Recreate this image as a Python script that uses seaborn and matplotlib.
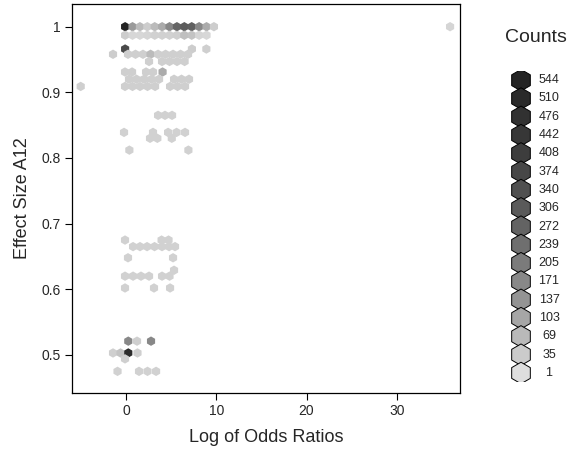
import matplotlib
matplotlib.use("Agg")
import matplotlib.pyplot as plt
from matplotlib.colors import LinearSegmentedColormap
import numpy as np
import pandas as pd
import seaborn as sns

# === hex cells: centre (log odds ratio, A12) and count in the cell ===
hex_x = [
    # A12 = 1.00
    -0.1, 0.72, 1.54, 2.36, 3.18, 4.0, 4.82, 5.64, 6.46, 7.28, 8.1, 8.92, 9.74, 35.9,
    # 0.987
    -0.1, 0.72, 1.54, 2.36, 3.18, 4.0, 4.82, 5.64, 6.46, 7.28, 8.1, 8.92,
    # 0.966
    -0.1, 7.3, 8.9,
    # 0.958
    -1.44, 0.22, 1.05, 1.88, 2.72, 3.55, 4.38, 5.21, 6.04, 6.87,
    # 0.947
    2.55, 3.99, 4.82, 5.65, 6.49,
    # 0.931
    -0.11, 0.67, 2.22, 2.99, 4.05,
    # 0.920
    0.33, 1.16, 2.0, 2.83, 3.66, 5.32, 6.15, 6.98,
    # 0.909
    -5.02, -0.11, 0.72, 1.55, 2.38, 3.22, 4.88, 5.71, 6.54,
    # 0.865 .. 0.812
    3.55, 4.32, 5.1,
    -0.22, 2.99, 4.66, 5.6, 6.54,
    2.66, 3.47, 5.07,
    0.37, 6.91,
    # 0.675 .. 0.602
    -0.11, 3.94, 4.71,
    0.78, 1.55, 2.33, 3.16, 3.99, 4.77, 5.43,
    0.22, 5.21,
    5.32,
    -0.11, 0.78, 1.66, 2.55, 3.99, 4.82,
    -0.11, 3.1, 4.88,
    # 0.521 .. 0.475
    0.25, 1.22, 2.77,
    -1.44, -0.61, 0.25, 1.27,
    -0.11,
    -0.94, 1.44, 2.38, 3.33,
]
hex_y = [
    1.0, 1.0, 1.0, 1.0, 1.0, 1.0, 1.0, 1.0, 1.0, 1.0, 1.0, 1.0, 1.0, 1.0,
    0.987, 0.987, 0.987, 0.987, 0.987, 0.987, 0.987, 0.987, 0.987, 0.987, 0.987, 0.987,
    0.966, 0.966, 0.966,
    0.958, 0.958, 0.958, 0.958, 0.958, 0.958, 0.958, 0.958, 0.958, 0.958,
    0.947, 0.947, 0.947, 0.947, 0.947,
    0.931, 0.931, 0.931, 0.931, 0.931,
    0.920, 0.920, 0.920, 0.920, 0.920, 0.920, 0.920, 0.920,
    0.909, 0.909, 0.909, 0.909, 0.909, 0.909, 0.909, 0.909, 0.909,
    0.865, 0.865, 0.865,
    0.839, 0.839, 0.839, 0.839, 0.839,
    0.830, 0.830, 0.830,
    0.812, 0.812,
    0.675, 0.675, 0.675,
    0.665, 0.665, 0.665, 0.665, 0.665, 0.665, 0.665,
    0.648, 0.648,
    0.629,
    0.620, 0.620, 0.620, 0.620, 0.620, 0.620,
    0.602, 0.602, 0.602,
    0.521, 0.521, 0.521,
    0.503, 0.503, 0.503, 0.503,
    0.494,
    0.475, 0.475, 0.475, 0.475,
]
hex_count = [
    544, 127, 65, 33, 65, 95, 170, 265, 300, 285, 170, 95, 33, 20,
    33, 15, 15, 20, 25, 25, 25, 30, 60, 50, 20, 15,
    360, 33, 30,
    33, 30, 30, 30, 65, 30, 30, 30, 30, 30,
    30, 30, 30, 30, 30,
    30, 30, 30, 30, 95,
    30, 30, 30, 30, 30, 30, 30, 30,
    30, 30, 30, 30, 30, 30, 30, 30, 30,
    25, 25, 25,
    25, 25, 25, 25, 25,
    25, 25, 25,
    25, 25,
    25, 25, 25,
    25, 25, 25, 25, 25, 25, 25,
    25, 25,
    25,
    25, 25, 25, 25, 25, 25,
    25, 25, 25,
    170, 30, 170,
    30, 50, 500, 30,
    30,
    25, 25, 25, 25,
]

legend_levels = [544, 510, 476, 442, 408, 374, 340, 306, 272,
                 239, 205, 171, 137, 103, 69, 35, 1]

x_ticks = [0, 10, 20, 30]
y_ticks = [0.5, 0.6, 0.7, 0.8, 0.9, 1.0]
y_tick_labels = ["0.5", "0.6", "0.7", "0.8", "0.9", "1"]

# === style ===
sns.set_style("white")
plt.rcParams['font.family'] = ['Liberation Sans', 'DejaVu Sans']
plt.rcParams['axes.edgecolor'] = 'black'

grey = LinearSegmentedColormap.from_list(
    "grey_counts", ["#dedede", "#949494", "#636363", "#3d3d3d", "#242424"])
norm = (1, 544)

fig = plt.figure(figsize=(5.75, 4.49), dpi=100)
ax = fig.add_axes([0.1256, 0.1247, 0.6744, 0.8664])

df = pd.DataFrame({"x": hex_x, "y": hex_y, "count": hex_count})
sns.scatterplot(data=df, x="x", y="y", hue="count", palette=grey,
                hue_norm=norm, marker="h", s=46, linewidth=0,
                legend=False, ax=ax)

ax.set_xlim(-5.96, 37.0)
ax.set_ylim(0.442, 1.0346)
ax.set_xticks(x_ticks)
ax.set_yticks(y_ticks)
ax.set_yticklabels(y_tick_labels)
ax.tick_params(direction="out", length=5, width=0.8, color="black",
               labelsize=10, pad=3, left=True, bottom=True)
for sp in ax.spines.values():
    sp.set_linewidth(0.9)
    sp.set_color("black")
ax.set_xlabel("Log of Odds Ratios", fontsize=13, labelpad=8)
ax.set_ylabel("Effect Size A12", fontsize=13, labelpad=8)

# === legend (hexagons stacked, one per count level) ===
lax = fig.add_axes([500 / 575, 66.85 / 449, 75 / 575, 311.1 / 449])
leg = pd.DataFrame({"level": legend_levels,
                    "slot": np.arange(len(legend_levels)),
                    "col": np.zeros(len(legend_levels))})
sns.scatterplot(data=leg, x="col", y="slot", hue="level", palette=grey,
                hue_norm=norm, marker="h", s=240, edgecolor="black",
                linewidth=0.7, legend=False, ax=lax)
for slot, level in zip(leg["slot"], legend_levels):
    lax.text(28, slot, str(level), ha="center", va="center", fontsize=9)
lax.set_xlim(-21, 54)
lax.set_ylim(len(legend_levels) - 0.5, -0.5)
lax.axis("off")

fig.text(536 / 575, 1 - 38 / 449, "Counts", ha="center", va="center",
         fontsize=14)

fig.savefig("out.png", dpi=100)
